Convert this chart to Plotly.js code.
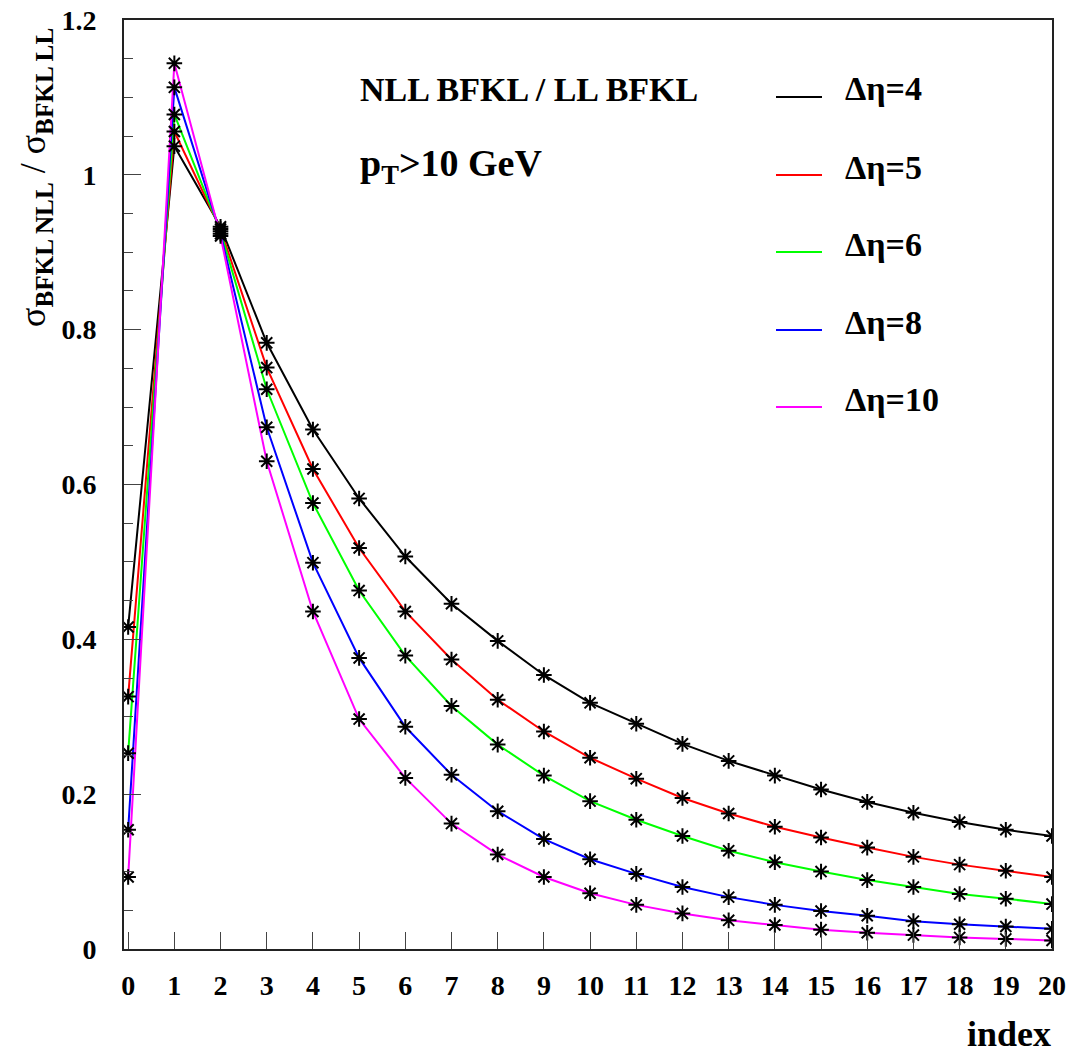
<!DOCTYPE html>
<html>
<head>
<meta charset="utf-8">
<script src="https://cdn.plot.ly/plotly-3.0.1.min.js"></script>
<style>html,body{margin:0;padding:0;background:#fff;}#plot{width:1073px;height:1054px;}</style>
</head>
<body>
<div id="plot"></div>
<script>
const index = [0,1,2,3,4,5,6,7,8,9,10,11,12,13,14,15,16,17,18,19,20];
const seriesNames = ["Δη=4","Δη=5","Δη=6","Δη=8","Δη=10"];
const seriesColors = ["#000000","#ff0000","#00ff00","#0000ff","#ff00ff"];
const deta4  = [0.416,1.037,0.933,0.783,0.671,0.582,0.507,0.446,0.398,0.354,0.318,0.291,0.265,0.243,0.224,0.206,0.190,0.176,0.164,0.154,0.146];
const deta5  = [0.326,1.056,0.930,0.751,0.620,0.518,0.436,0.374,0.322,0.281,0.247,0.220,0.195,0.175,0.158,0.144,0.131,0.119,0.109,0.101,0.093];
const deta6  = [0.253,1.078,0.927,0.723,0.576,0.463,0.379,0.314,0.264,0.224,0.191,0.167,0.146,0.127,0.112,0.100,0.089,0.080,0.071,0.065,0.058];
const deta8  = [0.154,1.113,0.924,0.674,0.499,0.376,0.287,0.225,0.178,0.142,0.116,0.097,0.080,0.067,0.057,0.049,0.043,0.036,0.032,0.029,0.026];
const deta10 = [0.093,1.144,0.921,0.630,0.436,0.297,0.221,0.162,0.122,0.093,0.072,0.057,0.046,0.037,0.031,0.025,0.021,0.018,0.015,0.013,0.011];
const allSeries = [deta4, deta5, deta6, deta8, deta10];

const FONT = "Liberation Serif";
const traces = [];
allSeries.forEach((ys, i) => {
  traces.push({x: index, y: ys, type: "scatter", mode: "lines",
    line: {color: seriesColors[i], width: 2}, name: seriesNames[i], showlegend: false, hoverinfo: "skip"});
});
allSeries.forEach((ys, i) => {
  traces.push({x: index, y: ys, type: "scatter", mode: "markers",
    marker: {symbol: "asterisk-open", size: 13, color: "#000", line: {color: "#000", width: 2}},
    showlegend: false, hoverinfo: "skip"});
});

// plot box in pixels: left 124, right 1052, top 20, bottom 949
const W = 1073, H = 1054, L = 124, R = 1052, T = 20, B = 949;
const px = v => (v - L) / (R - L);
const py = v => (B - v) / (B - T);

const annotations = [
  {text: "<b>NLL BFKL / LL BFKL</b>", xref: "paper", yref: "paper", x: px(358), y: py(90), xanchor: "left", yanchor: "middle", showarrow: false, font: {family: FONT, size: 34, color: "#000"}},
  {text: "<b>p<sub>T</sub>>10 GeV</b>", xref: "paper", yref: "paper", x: px(358), y: py(166), xanchor: "left", yanchor: "middle", showarrow: false, font: {family: FONT, size: 38, color: "#000"}},
  {text: "<b>index</b>", xref: "paper", yref: "paper", x: px(1053), y: py(1034), xanchor: "right", yanchor: "middle", showarrow: false, font: {family: FONT, size: 36, color: "#000"}},
  {text: "σ<b><sub>BFKL NLL</sub></b> / σ<b><sub>BFKL LL</sub></b>", xref: "paper", yref: "paper", x: px(36), y: py(178), xanchor: "center", yanchor: "middle", textangle: -90, showarrow: false, font: {family: FONT, size: 36, color: "#000"}}
];
const legendY = [97, 175, 252, 330, 407];
const shapes = [];
seriesNames.forEach((n, i) => {
  annotations.push({text: "<b>" + n + "</b>", xref: "paper", yref: "paper", x: px(843), y: py(legendY[i] - 8), xanchor: "left", yanchor: "middle", showarrow: false, font: {family: FONT, size: 34, color: "#000"}});
  shapes.push({type: "line", xref: "paper", yref: "paper", x0: px(776), x1: px(822), y0: py(legendY[i]), y1: py(legendY[i]), line: {color: seriesColors[i], width: 2}});
});

const layout = {
  width: W, height: H,
  margin: {l: L, r: W - R, t: T, b: H - B, pad: 0},
  paper_bgcolor: "#fff", plot_bgcolor: "#fff",
  showlegend: false,
  font: {family: FONT, color: "#000"},
  xaxis: {range: [-0.09, 20], tickmode: "array", tickvals: index, ticktext: index.map(v => "<b>" + v + "</b>"),
    ticks: "inside", ticklen: 17, tickwidth: 1, tickcolor: "#444",
    showline: true, linecolor: "#222", linewidth: 2, mirror: true,
    showgrid: false, zeroline: false, ticklabelstandoff: 10,
    tickfont: {family: FONT, size: 28, color: "#000"}},
  yaxis: {range: [0, 1.2], tickmode: "array", tickvals: [0,0.2,0.4,0.6,0.8,1,1.2], ticktext: ["0","0.2","0.4","0.6","0.8","1","1.2"].map(s => "<b>" + s + "</b>"),
    ticks: "inside", ticklen: 17, tickwidth: 1, tickcolor: "#444",
    minor: {dtick: 0.05, ticks: "inside", ticklen: 9, tickcolor: "#444", tickwidth: 1, showgrid: false},
    showline: true, linecolor: "#222", linewidth: 2, mirror: true,
    showgrid: false, zeroline: false, ticklabelstandoff: 20,
    tickfont: {family: FONT, size: 28, color: "#000"}},
  annotations: annotations,
  shapes: shapes
};
Plotly.newPlot("plot", traces, layout, {displayModeBar: false, staticPlot: true});
</script>
</body>
</html>
